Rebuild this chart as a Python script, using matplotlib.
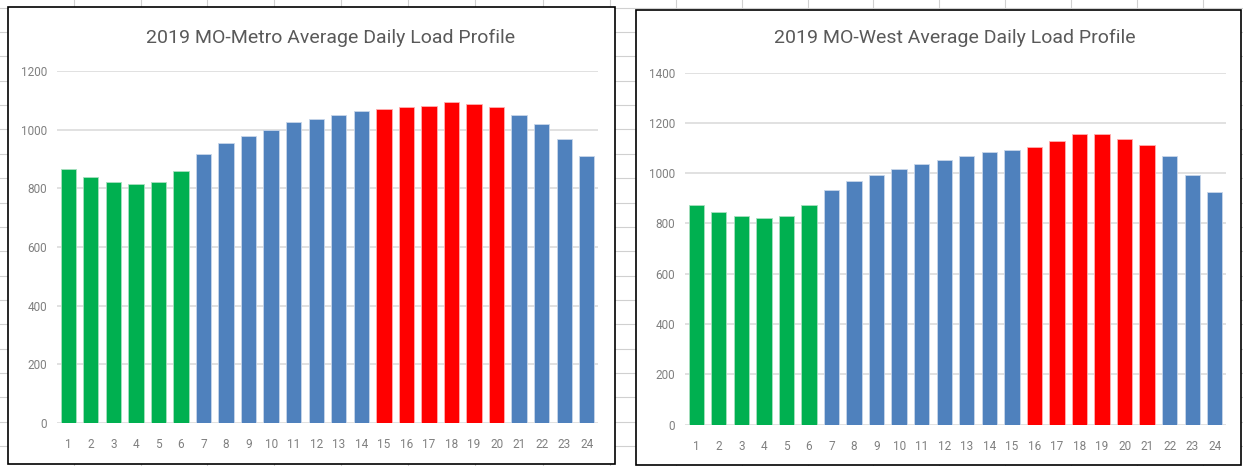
import matplotlib
matplotlib.use('Agg')
import matplotlib.pyplot as plt
from matplotlib.patches import Rectangle

plt.rcParams['font.family'] = ['Liberation Sans Narrow', 'Roboto', 'DejaVu Sans']

# hours of the day
hours = list(range(1, 25))

# average load
metro_load = [865, 839, 821, 814, 821, 858, 916, 954, 980, 999, 1025, 1038,
              1049, 1063, 1070, 1076, 1082, 1094, 1089, 1076, 1049, 1018, 967, 909]
west_load = [873, 844, 830, 822, 830, 873, 933, 970, 993, 1015, 1038, 1052,
             1067, 1083, 1091, 1106, 1128, 1157, 1157, 1135, 1112, 1067, 993, 925]

metro_title = '2019 MO-Metro Average Daily Load Profile'
west_title = '2019 MO-West Average Daily Load Profile'

# hour ranges for the colour groups
offpeak_hours = (1, 6)
metro_peak_hours = (15, 20)
west_peak_hours = (16, 21)

metro_yticks = [0, 200, 400, 600, 800, 1000, 1200]
west_yticks = [0, 200, 400, 600, 800, 1000, 1200, 1400]

GREEN = '#00B050'
BLUE = '#4F81BD'
RED = '#FF0000'

W, H = 1243, 466


def bar_colors(peak):
    cols = []
    for h in hours:
        if offpeak_hours[0] <= h <= offpeak_hours[1]:
            cols.append(GREEN)
        elif peak[0] <= h <= peak[1]:
            cols.append(RED)
        else:
            cols.append(BLUE)
    return cols


def box(x0, y0, x1, y1):
    # pixel box -> figure fraction [left, bottom, width, height]
    return [x0 / W, 1 - y1 / H, (x1 - x0) / W, (y1 - y0) / H]


fig = plt.figure(figsize=(W / 100, H / 100), dpi=100)

# spreadsheet cells behind the charts
bg = fig.add_axes([0, 0, 1, 1])
bg.set_xlim(0, W)
bg.set_ylim(H, 0)
bg.axis('off')
sheet_cols = [74, 141, 207, 274, 341, 408, 475, 543, 610,
              676, 742, 808, 873, 939, 1005, 1071, 1137, 1203]
sheet_rows = [7.7 + 24.35 * k for k in range(20)]
for c in sheet_cols:
    bg.axvline(c, color='#D0D0D0', lw=0.8, zorder=1)
for r in sheet_rows:
    bg.axhline(r, color='#D0D0D0', lw=0.8, zorder=1)

# chart frames
bg.add_patch(Rectangle((8, 7), 607, 457, facecolor='white', edgecolor='black',
                       lw=1.2, zorder=2))
bg.add_patch(Rectangle((636, 9.5), 605, 455.5, facecolor='white', edgecolor='black',
                       lw=1.2, zorder=2))

panels = [
    (box(57, 71, 598, 423), metro_load, metro_peak_hours, metro_yticks, metro_title, 331),
    (box(685, 72.7, 1226, 424.5), west_load, west_peak_hours, west_yticks, west_title, 955),
]

for rect, load, peak, yticks, title, title_x in panels:
    ax = fig.add_axes(rect)
    ax.set_facecolor('none')
    cols = bar_colors(peak)
    edge = ['#C8D6EA' if c == BLUE else ('#FFB0B0' if c == RED else '#A8E0C0') for c in cols]
    ax.bar(hours, load, width=0.68, color=cols, edgecolor=edge, linewidth=0.6, zorder=3)
    ax.set_xlim(0.5, 24.5)
    ax.set_ylim(0, yticks[-1])
    ax.set_yticks(yticks)
    ax.set_xticks(hours)
    ax.grid(axis='y', color='#D9D9D9', lw=1.1, zorder=0)
    ax.set_axisbelow(True)
    for s in ax.spines.values():
        s.set_visible(False)
    ax.tick_params(axis='both', length=0, labelsize=8.5, labelcolor='#808080')
    ax.tick_params(axis='y', pad=7)
    ax.tick_params(axis='x', pad=11)
    fig.text(title_x / W, 1 - 38 / H, title, ha='center', va='center',
             fontsize=14, color='#595959')

fig.savefig('out.png', dpi=100)
